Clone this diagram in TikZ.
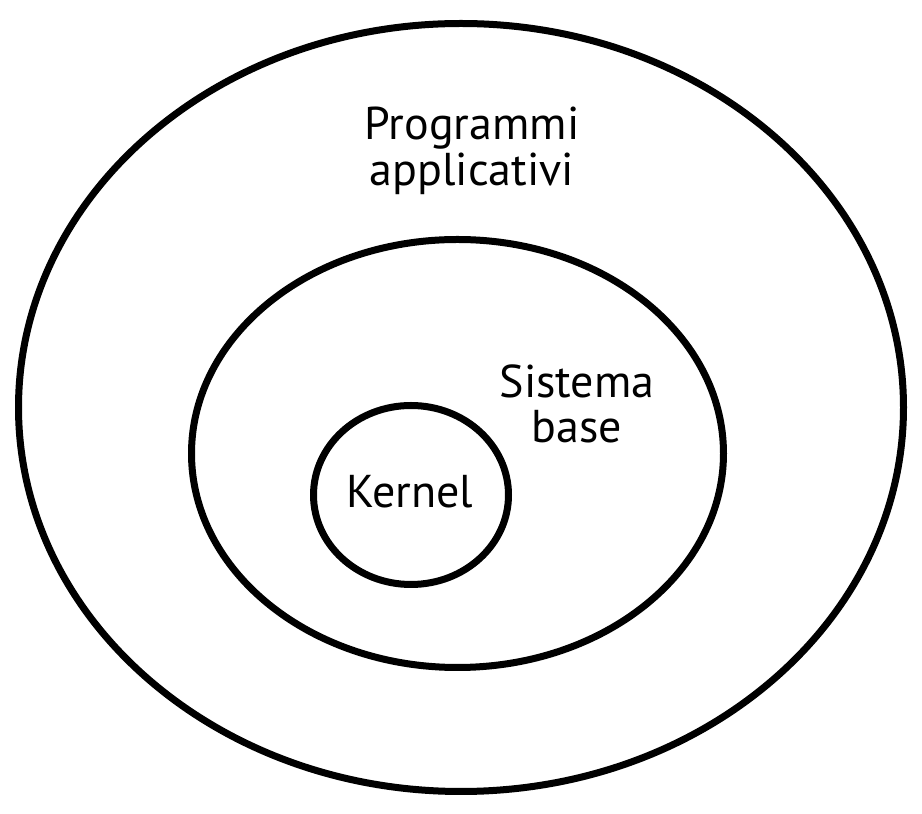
\documentclass[tikz,border=0pt]{standalone}
\usepackage{fontspec}
\setmainfont{PT Sans}
\begin{document}
\begin{tikzpicture}[x=1pt,y=1pt,
  ring/.style={draw=black,line width=7pt},
  lbl/.style={font=\fontsize{46}{46}\selectfont,align=center,inner sep=0pt}]
\useasboundingbox (0,0) rectangle (922,814);
\fill[white] (0,0) rectangle (922,814);
\draw[ring] (461,406.5) ellipse [x radius=442.5, y radius=384];
\draw[ring] (457.5,360.5) ellipse [x radius=266, y radius=214];
\draw[ring] (411,319) ellipse [x radius=97.5, y radius=89.5];
\node[lbl,anchor=base] (app) at (472,674) {Programmi};
\node[lbl,anchor=base] (app2) at (472,628) {applicativi};
\node[lbl,anchor=base] (sis) at (577,416) {Sistema};
\node[lbl,anchor=base] (sis2) at (577,371) {base};
\node[lbl,anchor=base] (ker) at (410,306) {Kernel};
\end{tikzpicture}
\end{document}
